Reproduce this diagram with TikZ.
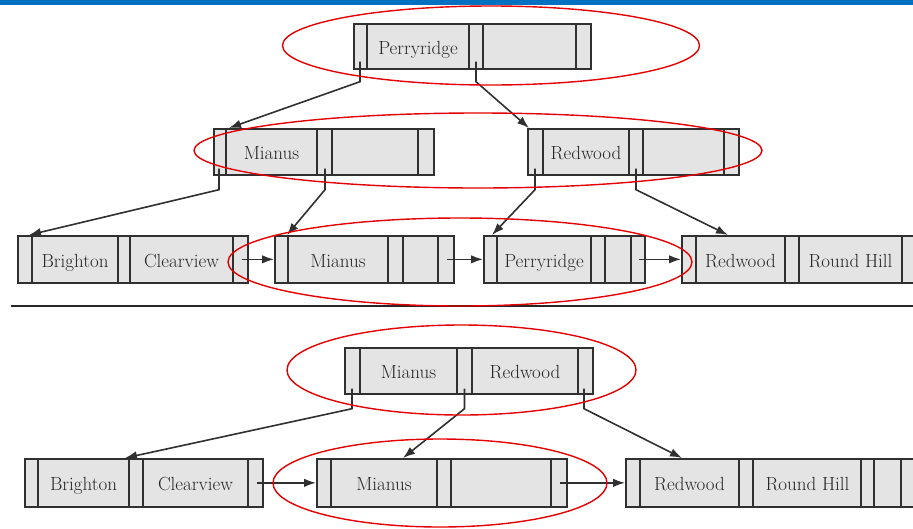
\documentclass[tikz,border=0pt]{standalone}
\usetikzlibrary{arrows.meta}

\definecolor{barblue}{RGB}{0,112,192}
\definecolor{ringred}{RGB}{228,0,0}
\definecolor{cellfill}{RGB}{228,228,228}
\definecolor{inkgray}{RGB}{48,48,48}

\tikzset{
  bpbox/.style={rectangle, draw=inkgray, fill=cellfill, line width=1.7pt, inner sep=0pt},
  bpdiv/.style={draw=inkgray, line width=1.7pt},
  keytxt/.style={font=\fontsize{19}{22}\selectfont, text=black!85, inner sep=0pt,
                 text height=17pt, text depth=0pt},
  treeptr/.style={draw=inkgray, line width=1.6pt, -{Latex[length=12pt,width=8.5pt]}},
  ring/.style={draw=ringred, line width=1.4pt},
}

% #1 name, #2 left x, #3 top y, #4 width, #5 height, #6 divider offsets from the left edge
\newcommand{\bplusnode}[6]{%
  \node[bpbox, minimum width=#4pt, minimum height=#5pt, anchor=north west] (#1) at (#2,#3) {};
  \foreach \d in {#6}{\draw[bpdiv] ([xshift=\d pt]#1.north west) -- ([xshift=\d pt]#1.south west);}
}

\begin{document}
\begin{tikzpicture}[x=1pt,y=-1pt]
\useasboundingbox (0,0) rectangle (913,528);
\clip (0,0) rectangle (913,528);

% title bar
\fill[barblue] (0,0) rectangle (913,5);

% ---------- tree before deletion ----------
\bplusnode{root}{353}{23}{237}{45}{14,116,130,223}
\node[keytxt] (rootk1) at (418,45.5) {Perryridge};

\bplusnode{midL}{213}{128}{220}{46}{13,104,119,205}
\node[keytxt] (midLk1) at (271.5,151) {Mianus};

\bplusnode{midR}{527}{128}{211}{46}{16,102,116,197}
\node[keytxt] (midRk1) at (586,151) {Redwood};

\bplusnode{lfA}{17}{235}{230}{47}{15,101,113,216}
\node[keytxt] (lfAk1) at (75,258.5) {Brighton};
\node[keytxt] (lfAk2) at (181.5,258.5) {Clearview};

\bplusnode{lfB}{274}{235}{179}{47}{14,114,129,164}
\node[keytxt] (lfBk1) at (338,258.5) {Mianus};

\bplusnode{lfC}{483}{235}{161}{47}{14,108,122,148}
\node[keytxt] (lfCk1) at (544,258.5) {Perryridge};

\bplusnode{lfD}{681}{235}{235}{47}{15,104,118,221}
\node[keytxt] (lfDk1) at (740.5,258.5) {Redwood};
\node[keytxt] (lfDk2) at (850.5,258.5) {Round Hill};

% child pointers
\draw[treeptr] ([xshift=7pt,yshift=8pt]root.south west) -- ++(0,20) -- ([xshift=16pt]midL.north west);
\draw[treeptr] ([xshift=123pt,yshift=8pt]root.south west) -- ++(0,20) -- ([xshift=2pt]midR.north west);
\draw[treeptr] ([xshift=6pt,yshift=7pt]midL.south west) -- ++(0,21) -- ([xshift=12pt]lfA.north west);
\draw[treeptr] ([xshift=112pt,yshift=7pt]midL.south west) -- ++(0,21) -- ([xshift=13pt]lfB.north west);
\draw[treeptr] ([xshift=8pt,yshift=7pt]midR.south west) -- ++(0,21) -- ([xshift=9pt]lfC.north west);
\draw[treeptr] ([xshift=109pt,yshift=7pt]midR.south west) -- ++(0,21) -- ([xshift=47pt]lfD.north west);

% leaf chain
\draw[treeptr] ([xshift=-7pt]lfA.east) -- (lfB.west);
\draw[treeptr] ([xshift=-8pt]lfB.east) -- (lfC.west);
\draw[treeptr] ([xshift=-7pt]lfC.east) -- (lfD.west);

% separator
\draw[line width=2.2pt, black!85] (11,306) -- (913,306);

% ---------- tree after deletion ----------
\bplusnode{top}{344}{347}{248}{46}{16,113,128,234}
\node[keytxt] (topk1) at (408.5,370) {Mianus};
\node[keytxt] (topk2) at (525,370) {Redwood};

\bplusnode{bfA}{24}{458}{238}{48}{14,105,119,224}
\node[keytxt] (bfAk1) at (83.5,482) {Brighton};
\node[keytxt] (bfAk2) at (195.5,482) {Clearview};

\bplusnode{bfB}{316}{458}{250}{48}{15,121,135,235}
\node[keytxt] (bfBk1) at (384,482) {Mianus};

\bplusnode{bfC}{625}{458}{292}{48}{15,114,128,236,249,276}
\node[keytxt] (bfCk1) at (689.5,482) {Redwood};
\node[keytxt] (bfCk2) at (807.5,482) {Round Hill};

\draw[treeptr] ([xshift=8pt,yshift=6pt]top.south west) -- ++(0,20) -- ([xshift=101pt]bfA.north west);
\draw[treeptr] ([xshift=120.5pt,yshift=6pt]top.south west) -- ++(0,20) -- ([xshift=87pt]bfB.north west);
\draw[treeptr] ([xshift=240pt,yshift=6pt]top.south west) -- ++(0,20) -- ([xshift=57pt]bfC.north west);

\draw[treeptr] ([xshift=-7pt]bfA.east) -- (bfB.west);
\draw[treeptr] ([xshift=-8pt]bfB.east) -- (bfC.west);

% highlighted levels
\draw[ring] (491,45.5) ellipse [x radius=208.5pt, y radius=39.5pt];
\draw[ring] (478,150.5) ellipse [x radius=284pt, y radius=37.5pt];
\draw[ring] (460,262) ellipse [x radius=232pt, y radius=44pt];
\draw[ring] (461.5,370) ellipse [x radius=174.5pt, y radius=45pt];
\draw[ring] (440,483) ellipse [x radius=167pt, y radius=44pt];
\end{tikzpicture}
\end{document}
